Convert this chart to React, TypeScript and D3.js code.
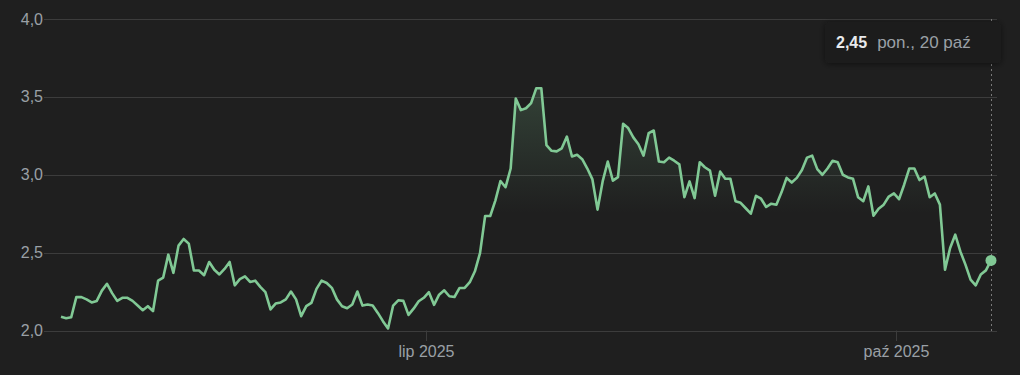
import React, { useEffect } from "react";
import * as d3 from "d3";

const START_DATE = "2025-04-21";
const values: number[] = [
  2.088, 2.079, 2.085, 2.214, 2.214, 2.2, 2.18, 2.19, 2.256, 2.3,
  2.24, 2.19, 2.21, 2.21, 2.19, 2.16, 2.13, 2.156, 2.124, 2.32,
  2.34, 2.487, 2.37, 2.545, 2.588, 2.558, 2.385, 2.385, 2.355, 2.44,
  2.39, 2.36, 2.395, 2.44, 2.29, 2.33, 2.348, 2.312, 2.32, 2.28,
  2.246, 2.135, 2.173, 2.18, 2.2, 2.25, 2.2, 2.092, 2.156, 2.177,
  2.267, 2.32, 2.305, 2.274, 2.2, 2.156, 2.143, 2.167, 2.25, 2.16,
  2.167, 2.16, 2.113, 2.06, 2.013, 2.16, 2.194, 2.19, 2.1, 2.14,
  2.188, 2.21, 2.246, 2.165, 2.23, 2.258, 2.22, 2.215, 2.273, 2.273,
  2.31, 2.38, 2.497, 2.735, 2.735, 2.834, 2.96, 2.92, 3.04, 3.49,
  3.415, 3.427, 3.46, 3.555, 3.555, 3.19, 3.154, 3.15, 3.17, 3.245,
  3.117, 3.128, 3.1, 3.04, 2.97, 2.776, 2.957, 3.085, 2.962, 2.985,
  3.327, 3.3, 3.24, 3.196, 3.123, 3.267, 3.284, 3.085, 3.08, 3.11,
  3.09, 3.067, 2.856, 2.957, 2.85, 3.08, 3.048, 3.027, 2.865, 3.02,
  2.974, 2.974, 2.83, 2.82, 2.785, 2.75, 2.865, 2.846, 2.793, 2.814,
  2.808, 2.887, 2.98, 2.95, 2.98, 3.03, 3.11, 3.123, 3.036, 3.0,
  3.04, 3.09, 3.08, 3.0, 2.983, 2.974, 2.855, 2.83, 2.925, 2.737,
  2.782, 2.808, 2.86, 2.88, 2.843, 2.936, 3.04, 3.04, 2.966, 2.988,
  2.856, 2.88, 2.808, 2.39, 2.53, 2.615, 2.508, 2.423, 2.327, 2.29,
  2.36, 2.386, 2.45,
];
const yTicks: number[] = [2.0, 2.5, 3.0, 3.5, 4.0];
const xTickDates: string[] = ["2025-07-01T12:00:00", "2025-10-01T12:00:00"];
const xTickLabels: string[] = ["lip 2025", "paź 2025"];
const tooltipValue = "2,45";
const tooltipDate = "pon., 20 paź";

const W = 1020;
const H = 375;
const BG = "#1f1f1f";
const GREEN = "#81c995";
const GRID = "#3c3c3c";
const LABEL = "#9aa0a6";
const FONT = "Arial, 'Liberation Sans', sans-serif";

export default function App() {
  useEffect(() => {
    document.body.style.margin = "0";
    document.body.style.background = BG;
  }, []);

  const start = new Date(START_DATE + "T00:00:00");
  const data = values.map((v, i) => ({ date: d3.timeDay.offset(start, i), v }));

  const x = d3
    .scaleTime()
    .domain([data[0].date, data[data.length - 1].date])
    .range([61, 991]);
  const y = d3.scaleLinear().domain([2, 4]).range([330.5, 19]);

  const line = d3
    .line<{ date: Date; v: number }>()
    .x((d) => x(d.date))
    .y((d) => y(d.v));
  const area = d3
    .area<{ date: Date; v: number }>()
    .x((d) => x(d.date))
    .y0(y(2))
    .y1((d) => y(d.v));

  const last = data[data.length - 1];
  const fmt = (v: number) => v.toFixed(1).replace(".", ",");
  const px = (v: number) => Math.round(v) + 0.5;

  return (
    <svg width={W} height={H} style={{ display: "block", background: BG }}>
      <defs>
        <linearGradient id="fillGrad" gradientUnits="userSpaceOnUse" x1="0" y1={y(3.55)} x2="0" y2={y(2.75)}>
          <stop offset="0%" stopColor={GREEN} stopOpacity={0.2} />
          <stop offset="100%" stopColor={GREEN} stopOpacity={0} />
        </linearGradient>
        <filter id="shadow" x="-20%" y="-40%" width="140%" height="180%">
          <feDropShadow dx="0" dy="1" stdDeviation="3" floodColor="#000" floodOpacity="0.5" />
        </filter>
      </defs>
      <rect x={0} y={0} width={W} height={H} fill={BG} />
      {yTicks.map((t) => (
        <g key={t}>
          <line x1={44} x2={997} y1={px(y(t))} y2={px(y(t))} stroke={GRID} strokeWidth={1} />
          <text
            x={43}
            y={y(t)}
            dy="0.35em"
            textAnchor="end"
            fill={LABEL}
            fontFamily={FONT}
            fontSize={16}
          >
            {fmt(t)}
          </text>
        </g>
      ))}
      {xTickDates.map((d, i) => {
        const xx = px(x(new Date(d)));
        return (
          <g key={d}>
            <line x1={xx} x2={xx} y1={y(2)} y2={341} stroke={GRID} strokeWidth={1} />
            <text x={xx} y={357} textAnchor="middle" fill={LABEL} fontFamily={FONT} fontSize={16}>
              {xTickLabels[i]}
            </text>
          </g>
        );
      })}
      <path d={area(data) || ""} fill="url(#fillGrad)" />
      <line
        x1={px(x(last.date))}
        x2={px(x(last.date))}
        y1={19}
        y2={331}
        stroke="#7a7a7a"
        strokeWidth={1}
        strokeDasharray="2,3"
      />
      <path d={line(data) || ""} fill="none" stroke={GREEN} strokeWidth={2.6} strokeLinejoin="round" />
      <circle cx={x(last.date)} cy={y(last.v)} r={5.5} fill={GREEN} />
      <g filter="url(#shadow)">
        <rect x={825} y={22} width={176} height={41} rx={4} fill="#1b1b1b" />
      </g>
      <text x={836} y={48} fontFamily={FONT} fontSize={16}>
        <tspan fill="#e8eaed" fontWeight="bold">{tooltipValue}</tspan>
        <tspan fill={LABEL} dx={10} fontSize={17}>{tooltipDate}</tspan>
      </text>
    </svg>
  );
}
